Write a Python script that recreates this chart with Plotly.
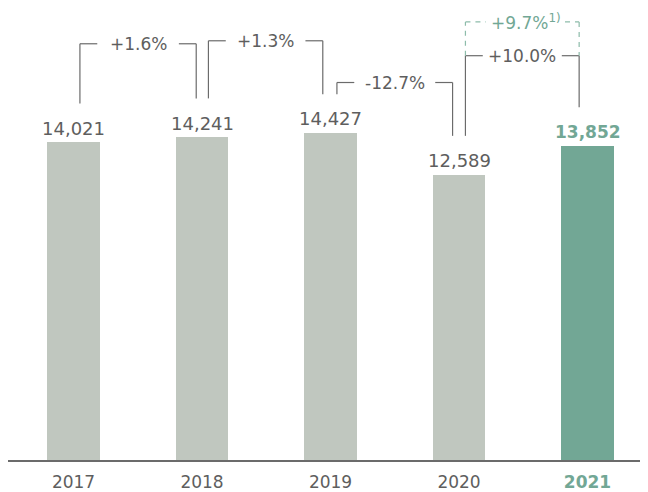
import plotly.graph_objects as go

years = ["2017", "2018", "2019", "2020", "2021"]
values = [14021, 14241, 14427, 12589, 13852]
value_labels = ["14,021", "14,241", "14,427", "12,589", "13,852"]
change_labels = ["+1.6%", "+1.3%", "-12.7%", "+10.0%"]
adjusted_label = "+9.7%"
adjusted_note = "1)"

GRAY_BAR = "#c0c7bf"
GREEN_BAR = "#72a795"
TEXT = "#5e5e5e"
LINE = "#6b6b6b"
GREEN_TXT = "#72a795"
GREEN_DASH = "#8dbcaa"
FONT = "DejaVu Sans"

x = list(range(len(years)))
colors = [GRAY_BAR] * (len(years) - 1) + [GREEN_BAR]

fig = go.Figure()
fig.add_trace(go.Bar(x=x, y=values, marker_color=colors, width=0.41,
                     marker_line_width=0, hoverinfo="skip"))

shapes = []
annotations = []

# value labels
for i, (v, lab) in enumerate(zip(values, value_labels)):
    last = i == len(values) - 1
    annotations.append(dict(
        x=i, y=v, xref="x", yref="y", text=f"<b>{lab}</b>" if last else lab,
        showarrow=False, yanchor="middle", yshift=14,
        font=dict(family=FONT, size=17 if last else 18,
                  color=GREEN_TXT if last else TEXT)))

# change brackets
top_levels = [18361, 18493, 16652, 17835]
right_off = [-0.045, -0.06, -0.05, -0.065]
left_off = 0.05
drop = 1710
seg = 0.135


def line(x0, y0, x1, y1, color=LINE, dash="solid"):
    shapes.append(dict(type="line", xref="x", yref="y", x0=x0, y0=y0, x1=x1, y1=y1,
                       line=dict(color=color, width=1.2, dash=dash)))


for i, lab in enumerate(change_labels):
    xl = i + left_off
    xr = i + 1 + right_off[i]
    top = top_levels[i]
    line(xl, values[i] + drop, xl, top)
    line(xl, top, xl + seg, top)
    line(xr - seg, top, xr, top)
    line(xr, top, xr, values[i + 1] + drop)
    annotations.append(dict(x=(xl + xr) / 2, y=top, xref="x", yref="y", text=lab,
                            showarrow=False, yanchor="middle",
                            font=dict(family=FONT, size=17, color=TEXT)))

# adjusted (dashed) bracket
xl = 3 + left_off
xr = 4 + right_off[3]
dtop = 19325
DASH = "5px,5px"
line(xl, top_levels[3], xl, dtop, GREEN_DASH, DASH)
line(xl, dtop, xl + 0.16, dtop, GREEN_DASH, DASH)
line(xr - 0.11, dtop, xr, dtop, GREEN_DASH, DASH)
line(xr, dtop, xr, top_levels[3], GREEN_DASH, DASH)
annotations.append(dict(x=(xl + xr) / 2 + 0.03, y=dtop, xref="x", yref="y",
                        text=f"{adjusted_label}<sup>{adjusted_note}</sup>",
                        showarrow=False, yanchor="middle",
                        font=dict(family=FONT, size=17, color=GREEN_TXT)))

ticktext = years[:-1] + [f"<b><span style='color:{GREEN_TXT}'>{years[-1]}</span></b>"]

fig.update_layout(
    width=640, height=484,
    margin=dict(l=0, r=0, t=0, b=29),
    plot_bgcolor="white", paper_bgcolor="white",
    showlegend=False, bargap=0,
    shapes=shapes, annotations=annotations,
    font=dict(family=FONT, size=17, color=TEXT),
    xaxis=dict(range=[-0.5097, 4.4708], tickvals=x, ticktext=ticktext,
               showgrid=False, zeroline=False, showline=True,
               linecolor=LINE, linewidth=1.5, ticks="outside", ticklen=6,
               tickcolor="rgba(0,0,0,0)", tickfont=dict(family=FONT, size=17, color=TEXT),
               fixedrange=True),
    yaxis=dict(range=[0, 19939], visible=False, showgrid=False, zeroline=False,
               fixedrange=True),
)

fig.write_html("out.html")
